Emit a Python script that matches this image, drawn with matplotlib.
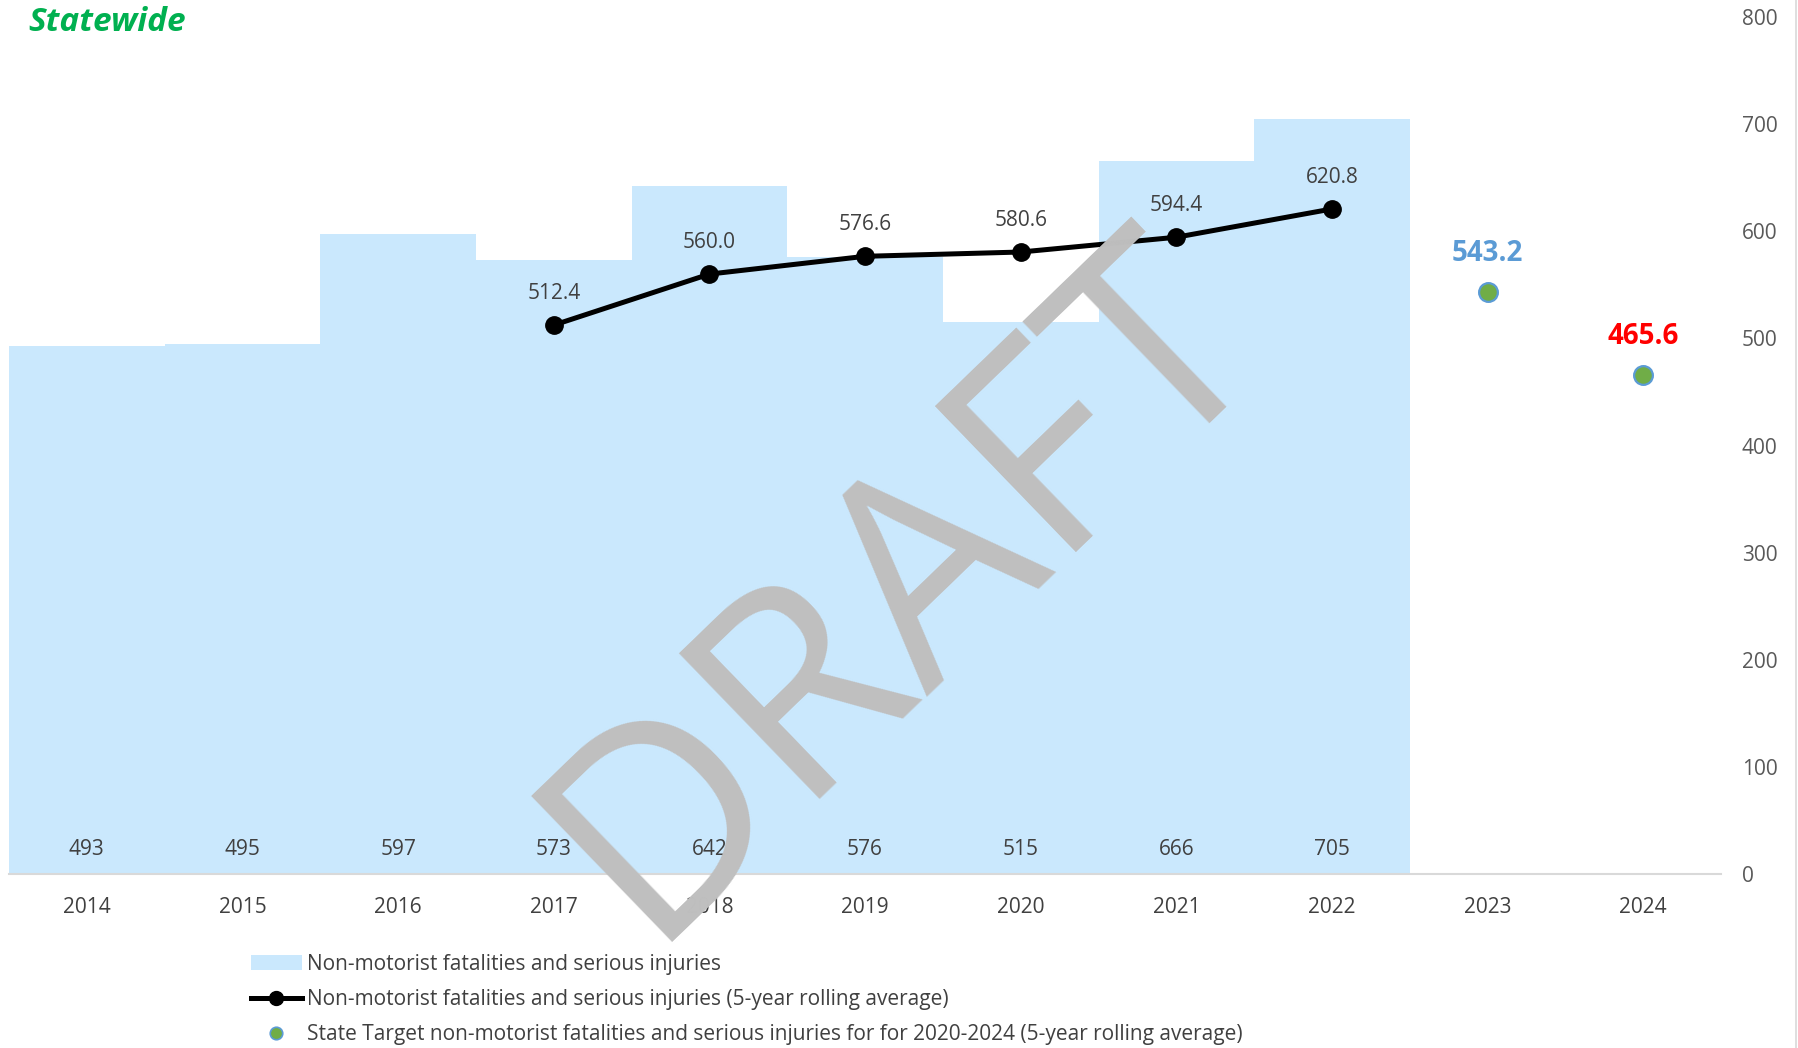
import matplotlib
matplotlib.use("Agg")
import matplotlib.pyplot as plt
from matplotlib.lines import Line2D
from matplotlib.patches import Patch
import numpy as np

plt.rcParams['font.family'] = ['Open Sans', 'DejaVu Sans']

years = ["2014", "2015", "2016", "2017", "2018", "2019", "2020", "2021", "2022", "2023", "2024"]
bar_years = ["2014", "2015", "2016", "2017", "2018", "2019", "2020", "2021", "2022"]
bar_values = [493, 495, 597, 573, 642, 576, 515, 666, 705]
avg_years = ["2017", "2018", "2019", "2020", "2021", "2022"]
avg_values = [512.4, 560.0, 576.6, 580.6, 594.4, 620.8]
target_years = ["2023", "2024"]
target_values = [543.2, 465.6]
target_label_colors = ["#5B9BD5", "#FF0000"]
yticks = [0, 100, 200, 300, 400, 500, 600, 700, 800]

bar_label = "Non-motorist fatalities and serious injuries"
avg_label = "Non-motorist fatalities and serious injuries (5-year rolling average)"
target_label = "State Target non-motorist fatalities and serious injuries for for 2020-2024 (5-year rolling average)"

TXT = "#404040"
fig = plt.figure(figsize=(17.99, 10.48), dpi=100)
ax = fig.add_axes([0.005, 0.166, 0.9517, 0.8178])

pos = {y: i for i, y in enumerate(years)}
bx = [pos[y] for y in bar_years]
ax.bar(bx, bar_values, width=1.0, color="#CAE8FD", edgecolor="none", zorder=1)
for x, v in zip(bx, bar_values):
    ax.annotate(f"{v}", (x, 0), xytext=(0, 18), textcoords="offset points",
                ha="center", va="center", fontsize=15, color=TXT, zorder=3)

ax_x = [pos[y] for y in avg_years]
ax.plot(ax_x, avg_values, color="black", lw=3.6, marker="o", markersize=12.5,
        zorder=4, solid_capstyle="round")
for x, v in zip(ax_x, avg_values):
    ax.annotate(f"{v:.1f}", (x, v), xytext=(0, 23), textcoords="offset points",
                ha="center", va="center", fontsize=15, color=TXT, zorder=5)

tx = [pos[y] for y in target_years]
ax.plot(tx, target_values, linestyle="none", marker="o", markersize=13.5,
        markerfacecolor="#70AD47", markeredgecolor="#5B9BD5", markeredgewidth=1.6, zorder=4)
for x, v, c in zip(tx, target_values, target_label_colors):
    ax.annotate(f"{v:.1f}", (x, v), xytext=(0, 28), textcoords="offset points",
                ha="center", va="center", fontsize=20, fontweight="bold", color=c, zorder=5)

ax.set_xlim(-0.5, len(years) - 0.5)
ax.set_ylim(0, 800)
ax.set_xticks(range(len(years)))
ax.set_xticklabels(years, fontsize=15, color=TXT)
ax.tick_params(axis="x", length=0, pad=16.5)
ax.yaxis.tick_right()
ax.set_yticks(yticks)
ax.set_yticklabels([str(t) for t in yticks], fontsize=15, color="#595959")
ax.tick_params(axis="y", length=0, pad=15)
for s in ["top", "left", "right"]:
    ax.spines[s].set_visible(False)
ax.spines["bottom"].set_color("#D9D9D9")
ax.spines["bottom"].set_linewidth(1.5)
ax.spines["bottom"].set_zorder(2)

fig.text(0.016, 0.979, "Statewide", fontsize=24, fontweight="bold", fontstyle="italic",
         color="#00B050", ha="left", va="center")

handles = [
    Patch(facecolor="#CAE8FD", edgecolor="none"),
    Line2D([], [], color="black", lw=3.6, marker="o", markersize=10),
    Line2D([], [], linestyle="none", marker="o", markersize=9,
           markerfacecolor="#70AD47", markeredgecolor="#5B9BD5", markeredgewidth=1.2),
]
leg = fig.legend(handles, [bar_label, avg_label, target_label], loc="upper left",
                 bbox_to_anchor=(0.1395, 0.0900), frameon=False, fontsize=15,
                 handlelength=2.45, handletextpad=0.25, labelspacing=0.68,
                 borderaxespad=0, borderpad=0)
for t in leg.get_texts():
    t.set_color(TXT)

fig.add_artist(Line2D([0.9985, 0.9985], [0, 1], transform=fig.transFigure,
                      color="#D9D9D9", lw=1.2))

fig.text(0.503, 0.438, "DRAFT", fontsize=205, color="#BFBFBF", rotation=44,
         ha="center", va="center", rotation_mode="anchor", zorder=10)

fig.savefig("out.png", dpi=100)
